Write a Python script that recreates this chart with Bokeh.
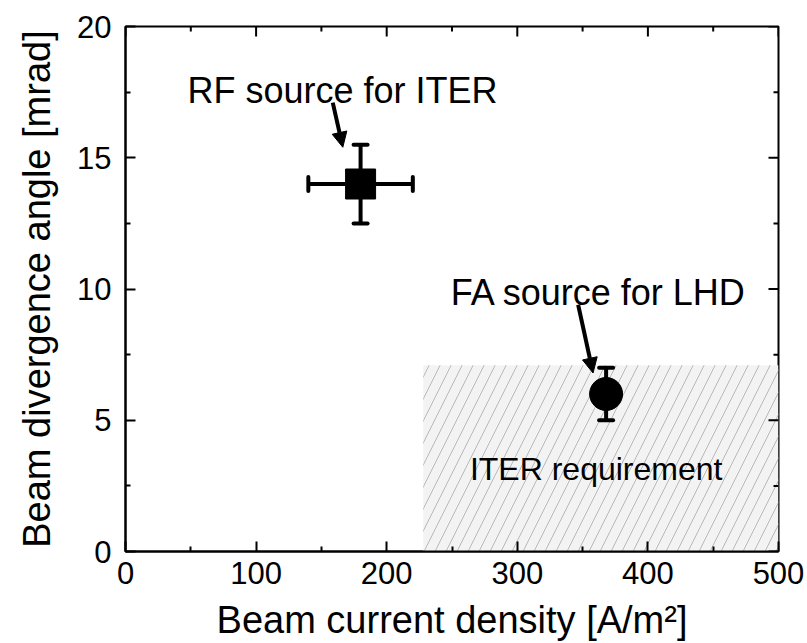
import math
from bokeh.plotting import figure
from bokeh.models import (ColumnDataSource, Whisker, TeeHead, Arrow, NormalHead,
                          Label, Range1d, FixedTicker)
from bokeh.embed import file_html
from bokeh.resources import INLINE

# ---- data ----
rf_x = [180]
rf_y = [14]
rf_xerr = [40]
rf_yerr = [1.5]

fa_x = [368]
fa_y = [6]
fa_yerr = [1.0]

req_left = [228]
req_right = [500]
req_bottom = [0]
req_top = [7.1]

x_ticks = [0, 100, 200, 300, 400, 500]
x_minor = [50, 150, 250, 350, 450]
y_ticks = [0, 5, 10, 15, 20]
y_minor = [2.5, 7.5, 12.5, 17.5]

FONT = "Liberation Sans"
X_MAX = x_ticks[-1]
Y_MAX = y_ticks[-1]

p = figure(width=807, height=643, output_backend="svg", toolbar_location=None,
           x_range=Range1d(x_ticks[0], X_MAX), y_range=Range1d(y_ticks[0], Y_MAX),
           min_border_left=125, min_border_right=29, min_border_top=26,
           min_border_bottom=90)
p.background_fill_color = "white"
p.border_fill_color = "white"
p.outline_line_color = "black"
p.outline_line_width = 2
p.xgrid.visible = False
p.ygrid.visible = False

# requirement region
p.quad(left=req_left, right=req_right, bottom=req_bottom, top=req_top,
       fill_color="#f3f3f3", line_color=None,
       hatch_pattern="/", hatch_color="#b8b8b8", hatch_scale=22, hatch_weight=1)

# mirrored ticks on top and right
p.ray(x=x_ticks, y=[Y_MAX] * len(x_ticks), length=10, length_units="screen",
      angle=-math.pi / 2, line_color="black", line_width=2)
p.ray(x=x_minor, y=[Y_MAX] * len(x_minor), length=5, length_units="screen",
      angle=-math.pi / 2, line_color="black", line_width=2)
p.ray(x=[X_MAX] * len(y_ticks), y=y_ticks, length=10, length_units="screen",
      angle=math.pi, line_color="black", line_width=2)
p.ray(x=[X_MAX] * len(y_minor), y=y_minor, length=5, length_units="screen",
      angle=math.pi, line_color="black", line_width=2)

# RF source
rf_src = ColumnDataSource(dict(
    x=rf_x, y=rf_y,
    xl=[a - b for a, b in zip(rf_x, rf_xerr)], xu=[a + b for a, b in zip(rf_x, rf_xerr)],
    yl=[a - b for a, b in zip(rf_y, rf_yerr)], yu=[a + b for a, b in zip(rf_y, rf_yerr)],
))
fa_src = ColumnDataSource(dict(
    x=fa_x, y=fa_y,
    yl=[a - b for a, b in zip(fa_y, fa_yerr)], yu=[a + b for a, b in zip(fa_y, fa_yerr)],
))

def head():
    return TeeHead(size=14, line_width=4, line_color="black", line_cap="round")

for src, base, lo, up, dim in [(rf_src, "y", "xl", "xu", "width"),
                               (rf_src, "x", "yl", "yu", "height"),
                               (fa_src, "x", "yl", "yu", "height")]:
    p.add_layout(Whisker(source=src, base=base, lower=lo, upper=up, dimension=dim,
                         line_width=4, line_color="black", upper_head=head(),
                         lower_head=head(), level="glyph"))

p.scatter("x", "y", source=rf_src, marker="square", size=30, fill_color="black", line_color="black")
p.scatter("x", "y", source=fa_src, marker="circle", size=33, fill_color="black", line_color="black")

# arrows
p.add_layout(Arrow(end=NormalHead(size=15, fill_color="black", line_color="black", line_width=1),
                   x_start=158.7, y_start=17.1, x_end=166.4, y_end=15.4,
                   line_width=4, line_color="black"))
p.add_layout(Arrow(end=NormalHead(size=15, fill_color="black", line_color="black", line_width=1),
                   x_start=346.6, y_start=9.4, x_end=358.0, y_end=6.8,
                   line_width=4, line_color="black"))

# labels
p.add_layout(Label(x=47.5, y=17.57, text="RF source for ITER", text_font=FONT,
                   text_font_size="36px", text_color="black", text_baseline="alphabetic"))
p.add_layout(Label(x=249, y=9.87, text="FA source for LHD", text_font=FONT,
                   text_font_size="36px", text_color="black", text_baseline="alphabetic"))
p.add_layout(Label(x=360.4, y=3.15, text="ITER requirement", text_font=FONT,
                   text_font_size="32px", text_color="black", text_baseline="alphabetic",
                   text_align="center"))

# axes
def style(ax):
    ax.axis_line_color = "black"
    ax.axis_line_width = 2
    ax.major_tick_line_color = "black"
    ax.major_tick_line_width = 2
    ax.minor_tick_line_color = "black"
    ax.minor_tick_line_width = 2
    ax.major_tick_in = 10
    ax.major_tick_out = 0
    ax.minor_tick_in = 5
    ax.minor_tick_out = 0
    ax.major_label_text_font = FONT
    ax.major_label_text_font_size = "31px"
    ax.major_label_text_color = "black"
    ax.axis_label_text_font = FONT
    ax.axis_label_text_font_size = "38px"
    ax.axis_label_text_font_style = "normal"
    ax.axis_label_text_color = "black"

p.xaxis.ticker = FixedTicker(ticks=x_ticks, minor_ticks=x_minor)
p.yaxis.ticker = FixedTicker(ticks=y_ticks, minor_ticks=y_minor)
style(p.xaxis[0])
style(p.yaxis[0])
p.xaxis.axis_label = "Beam current density [A/m²]"
p.yaxis.axis_label = "Beam divergence angle [mrad]"
p.xaxis.major_label_standoff = 10
p.xaxis.axis_label_standoff = 12
p.yaxis.major_label_standoff = 14
p.yaxis.axis_label_standoff = 16

open("out.html", "w").write(file_html(p, INLINE))
